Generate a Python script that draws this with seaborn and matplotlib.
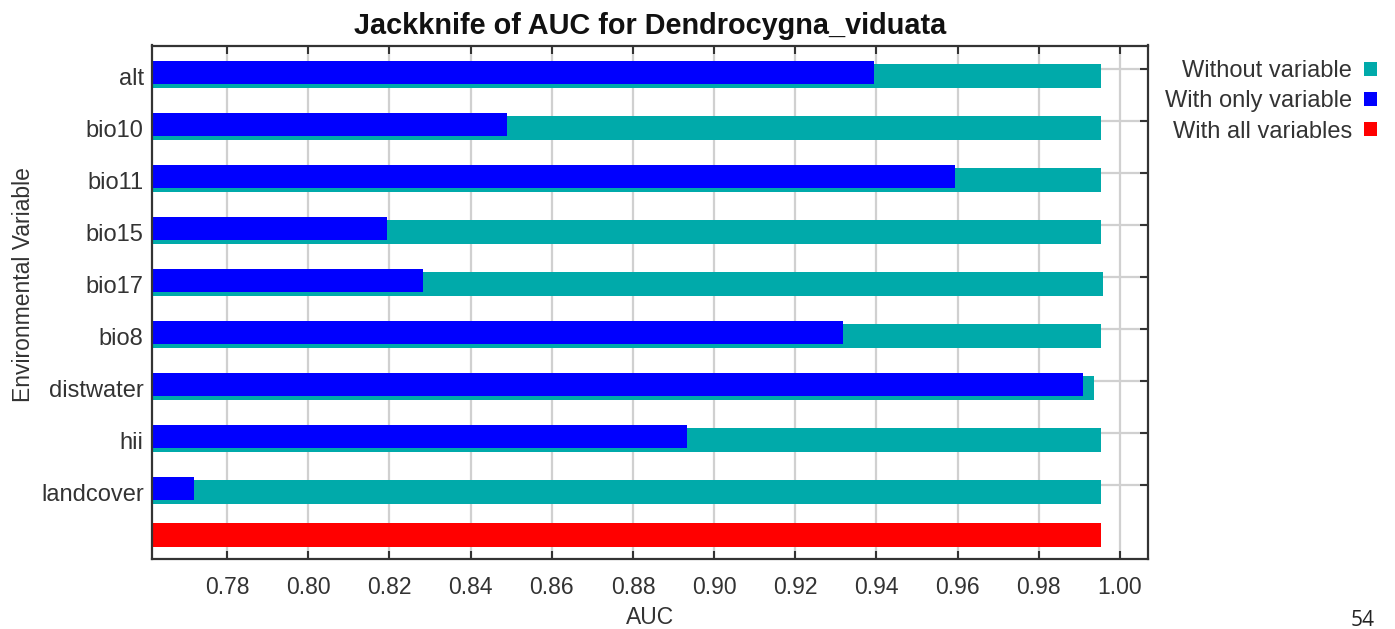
import numpy as np
import pandas as pd
import matplotlib
matplotlib.use("Agg")
import matplotlib.pyplot as plt
from matplotlib.ticker import FixedLocator
import seaborn as sns

# Jackknife results (AUC) for each environmental variable
variables = ["alt", "bio10", "bio11", "bio15", "bio17", "bio8", "distwater", "hii", "landcover"]
auc_without = [0.9952, 0.9952, 0.9952, 0.9952, 0.9958, 0.9952, 0.9937, 0.9952, 0.9952]
auc_only = [0.9395, 0.8489, 0.9593, 0.8194, 0.8283, 0.9317, 0.9908, 0.8933, 0.7719]
auc_all = 0.9952
auc_ticks = [0.78, 0.80, 0.82, 0.84, 0.86, 0.88, 0.90, 0.92, 0.94, 0.96, 0.98, 1.00]

sns.set_style("white")
plt.rcParams["font.family"] = ["Liberation Sans", "DejaVu Sans"]

rows = np.arange(len(variables), dtype=float)
df_without = pd.DataFrame({"auc": auc_without, "pos": rows + 0.135})
df_only = pd.DataFrame({"auc": auc_only, "pos": rows + 0.06})
df_all = pd.DataFrame({"auc": [auc_all], "pos": [len(variables) - 0.04]})

fig = plt.figure(figsize=(13.95, 6.29), dpi=100)
ax = fig.add_axes([152 / 1395, 1 - 559 / 629, 996 / 1395, 513.5 / 629])

bar_kw = dict(orient="h", native_scale=True, width=0.45, linewidth=0, ax=ax)
sns.barplot(data=df_without, x="auc", y="pos", color="#00AAAA",
            saturation=1, label="Without variable", **bar_kw)
sns.barplot(data=df_only, x="auc", y="pos", color="#0000FF",
            saturation=1, label="With only variable", **bar_kw)
sns.barplot(data=df_all, x="auc", y="pos", color="#FF0000",
            saturation=1, label="With all variables", **bar_kw)
if ax.get_legend() is not None:
    ax.get_legend().remove()

ax.set_xlim(0.7615, 1.0069)
ax.set_ylim(len(variables) + 0.42, -0.455)

# x axis: ticks every 0.02, inward on top and bottom
ax.set_xticks(auc_ticks)
ax.set_xticklabels([f"{v:.2f}" for v in auc_ticks])
ax.tick_params(axis="x", direction="in", top=True, bottom=True, length=6,
               width=1.5, color="#333333", labelsize=16.5, labelcolor="#333333", pad=12)

# y axis: labels beside the bars, grid/ticks on row boundaries (right side)
ax.set_yticks(rows + 0.135)
ax.set_yticklabels(variables)
ax.yaxis.set_minor_locator(FixedLocator(rows))
ax.tick_params(axis="y", which="major", left=False, right=False, length=0,
               labelsize=17, labelcolor="#333333", pad=6)
ax.tick_params(axis="y", which="minor", direction="in", left=False, right=True,
               length=6, width=1.5, color="#333333")

ax.grid(axis="x", which="major", color="#d0d0d0", linewidth=1.6)
ax.grid(axis="y", which="minor", color="#d0d0d0", linewidth=1.6)
ax.grid(axis="y", which="major", visible=False)
ax.set_axisbelow(True)

for sp in ax.spines.values():
    sp.set_color("#333333")
    sp.set_linewidth(1.6)

ax.set_title("Jackknife of AUC for Dendrocygna_viduata", fontsize=20.8,
             fontweight="bold", color="#111111", pad=8)
ax.set_xlabel("AUC", fontsize=16.5, color="#333333")
ax.xaxis.set_label_coords(0.5, -0.092)
ax.set_ylabel("Environmental Variable", fontsize=16.5, color="#333333")
ax.yaxis.set_label_coords(-0.117, 0.534)

handles, labels = ax.get_legend_handles_labels()
fig.legend(handles, labels, loc="upper right", bbox_to_anchor=(1377 / 1395, 1 - 60 / 629),
           frameon=False, markerfirst=False, handlelength=0.55, handleheight=0.55,
           handletextpad=0.5, labelspacing=0.35, borderpad=0, borderaxespad=0,
           fontsize=17, labelcolor="#333333")

fig.text(1363 / 1395, 1 - 610 / 629, "54", ha="center", va="top",
         fontsize=15, color="#222222", family=["Open Sans", "DejaVu Sans"])

fig.savefig("out.png", dpi=100)
